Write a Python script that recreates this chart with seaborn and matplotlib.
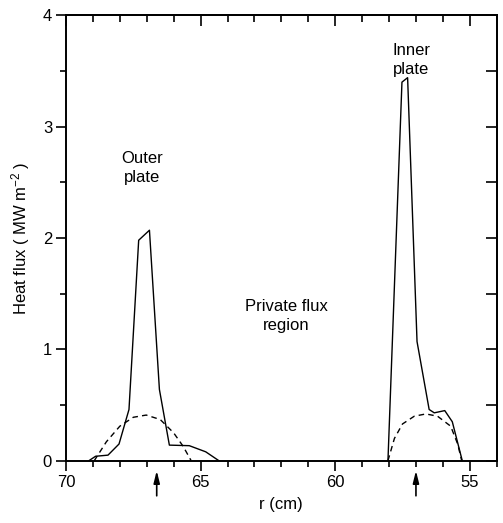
import matplotlib
matplotlib.use("Agg")
import matplotlib.pyplot as plt
import seaborn as sns
import pandas as pd
from matplotlib.ticker import MultipleLocator

# ---- data ----
outer_solid_r = [69.15, 68.90, 68.44, 68.03, 67.66, 67.30, 66.90, 66.53, 66.16, 65.42, 64.81, 64.32]
outer_solid_q = [0.00, 0.04, 0.05, 0.15, 0.46, 1.98, 2.07, 0.64, 0.14, 0.135, 0.08, 0.00]

inner_solid_r = [58.04, 57.52, 57.31, 56.96, 56.51, 56.32, 55.93, 55.65, 55.28]
inner_solid_q = [0.00, 3.40, 3.44, 1.07, 0.46, 0.43, 0.45, 0.35, 0.00]

outer_dash_r = [68.95, 68.50, 68.00, 67.50, 67.02, 66.50, 66.00, 65.65, 65.35]
outer_dash_q = [0.00, 0.17, 0.31, 0.39, 0.41, 0.37, 0.25, 0.13, 0.00]

inner_dash_r = [58.04, 57.80, 57.50, 57.06, 56.63, 56.20, 55.71, 55.45, 55.30]
inner_dash_q = [0.00, 0.20, 0.33, 0.40, 0.42, 0.40, 0.31, 0.15, 0.00]

arrow_r = [66.63, 57.0]

xlim = (70, 54)
ylim = (0, 4)

# ---- figure ----
sns.set_theme(style="ticks")
plt.rcParams["font.family"] = ["Liberation Sans", "DejaVu Sans"]
plt.rcParams.update({
    "text.color": "black", "axes.labelcolor": "black",
    "xtick.color": "black", "ytick.color": "black",
    "mathtext.fontset": "custom", "mathtext.rm": "Liberation Sans",
    "mathtext.it": "Liberation Sans:italic", "mathtext.bf": "Liberation Sans:bold",
})

fig = plt.figure(figsize=(5.03, 5.23), dpi=100)
ax = fig.add_axes([0.1312, 0.1191, 0.9875 - 0.1312, 0.9707 - 0.1191])

for r, q in [(outer_solid_r, outer_solid_q), (inner_solid_r, inner_solid_q)]:
    df = pd.DataFrame({"r": r, "q": q})
    sns.lineplot(data=df, x="r", y="q", ax=ax, color="black", lw=1.0,
                 estimator=None, sort=False)
for r, q in [(outer_dash_r, outer_dash_q), (inner_dash_r, inner_dash_q)]:
    df = pd.DataFrame({"r": r, "q": q})
    sns.lineplot(data=df, x="r", y="q", ax=ax, color="black", lw=1.0,
                 estimator=None, sort=False)
    ax.lines[-1].set_linestyle((0, (4, 3)))

ax.set_xlim(*xlim)
ax.set_ylim(*ylim)

fs = 12
ax.set_xlabel("r (cm)", fontsize=fs, labelpad=5)
ax.set_ylabel("Heat flux ( MW m$^{-2}$ )", fontsize=fs, labelpad=8)

ax.xaxis.set_major_locator(MultipleLocator(5))
ax.xaxis.set_minor_locator(MultipleLocator(1))
ax.yaxis.set_major_locator(MultipleLocator(1))
ax.yaxis.set_minor_locator(MultipleLocator(0.5))
ax.tick_params(which="major", direction="out", length=7, width=1.2, labelsize=fs, pad=3)
ax.tick_params(which="minor", direction="out", length=4, width=1.2)
for s in ax.spines.values():
    s.set_linewidth(1.4)
    s.set_color("black")

# top and right inward ticks
sx = ax.secondary_xaxis("top")
sx.xaxis.set_major_locator(MultipleLocator(5))
sx.xaxis.set_minor_locator(MultipleLocator(1))
sx.tick_params(which="major", direction="in", length=8, width=1.2, labeltop=False)
sx.tick_params(which="minor", direction="in", length=5, width=1.2)
sx.spines["top"].set_linewidth(1.4)

sy = ax.secondary_yaxis("right")
sy.yaxis.set_major_locator(MultipleLocator(0.5))
sy.yaxis.set_minor_locator(MultipleLocator(0.5))
sy.tick_params(which="major", direction="in", length=8, width=1.2, labelright=False)
sy.spines["right"].set_linewidth(1.4)

# annotations
ax.text(67.16, 2.63, "Outer\nplate", ha="center", va="center", fontsize=fs, linespacing=1.3)
ax.text(57.18, 3.60, "Inner\nplate", ha="center", va="center", fontsize=fs, linespacing=1.3)
ax.text(61.82, 1.30, "Private flux\nregion", ha="center", va="center", fontsize=fs, linespacing=1.3)

for r in arrow_r:
    ax.annotate("", xy=(r, -0.065), xytext=(r, -0.34), xycoords="data",
                arrowprops=dict(arrowstyle="-|>,head_length=0.6,head_width=0.15",
                                color="black", lw=1.2),
                annotation_clip=False)

fig.savefig("out.png", dpi=100)
